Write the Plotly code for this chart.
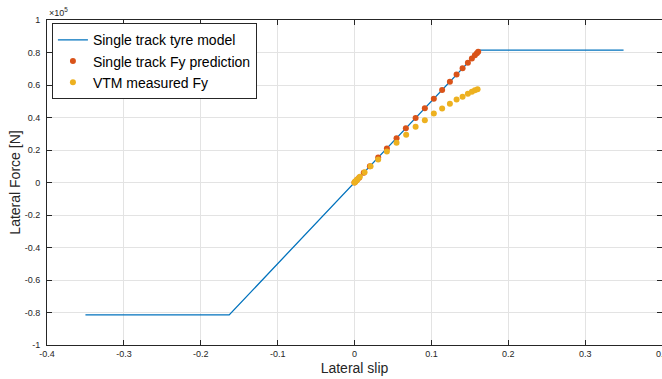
import plotly.graph_objects as go

# Single track tyre model: linear region with saturation
model_slip = [-0.35, -0.163, 0.163, 0.35]
model_fy = [-81500, -81500, 81500, 81500]

# Single track Fy prediction
pred_slip = [0.0, 0.001, 0.003, 0.006, 0.012, 0.020, 0.0308, 0.0421, 0.0547, 0.0668,
             0.0795, 0.0915, 0.1032, 0.1140, 0.1241, 0.1328, 0.1406, 0.1475,
             0.1527, 0.1566, 0.1592, 0.1609]
pred_fy = [0, 500, 1500, 3000, 6000, 10000, 15400, 21000, 27300, 33400,
           39700, 45700, 51600, 57000, 62000, 66400, 70300, 73700,
           76300, 78300, 79600, 80400]

# VTM measured Fy
vtm_slip = [0.0, 0.0005, 0.0015, 0.0025, 0.004, 0.007, 0.0131, 0.0209, 0.0308, 0.0421,
            0.0547, 0.0672, 0.0795, 0.0915, 0.1032, 0.1140, 0.1241, 0.1328,
            0.1406, 0.1475, 0.1527, 0.1566, 0.1601]
vtm_fy = [0, 300, 800, 1300, 2000, 3500, 6300, 10000, 14150, 19100,
          24400, 29350, 34300, 38300, 42500, 45500, 48400, 51100,
          52700, 54600, 55800, 56800, 57400]

x_ticks = [-0.4, -0.3, -0.2, -0.1, 0, 0.1, 0.2, 0.3]
x_tick_text = ["-0.4", "-0.3", "-0.2", "-0.1", "0", "0.1", "0.2", "0.3"]
x_last_tick = 0.4
x_last_text = "0.4"
y_ticks = [-100000, -80000, -60000, -40000, -20000, 0, 20000, 40000, 60000, 80000, 100000]
y_tick_text = ["-1", "-0.8", "-0.6", "-0.4", "-0.2", "0", "0.2", "0.4", "0.6", "0.8", "1"]

BLUE = "#0072BD"
RED = "#D95319"
YELLOW = "#EDB120"
AXIS = "#262626"
GRID = "#e3e3e3"
FONT = "Liberation Sans, Arial, Helvetica, sans-serif"

fig = go.Figure()
fig.add_trace(go.Scatter(x=model_slip, y=model_fy, mode="lines",
                         name="Single track tyre model",
                         line=dict(color=BLUE, width=1.3)))
fig.add_trace(go.Scatter(x=pred_slip, y=pred_fy, mode="markers",
                         name="Single track Fy prediction",
                         marker=dict(color=RED, size=6)))
fig.add_trace(go.Scatter(x=vtm_slip, y=vtm_fy, mode="markers",
                         name="VTM measured Fy",
                         marker=dict(color=YELLOW, size=6)))

axis_common = dict(
    showline=True, linecolor=AXIS, linewidth=1, mirror="ticks",
    ticks="inside", ticklen=5, tickcolor=AXIS, tickwidth=1,
    showgrid=True, gridcolor=GRID, gridwidth=1, zeroline=False,
    tickfont=dict(family=FONT, size=9, color=AXIS),
)

fig.update_layout(
    width=662, height=379,
    margin=dict(l=47, r=0, t=20, b=34),
    paper_bgcolor="white", plot_bgcolor="white",
    font=dict(family=FONT, color=AXIS),
    xaxis=dict(range=[-0.4, 0.4], tickvals=x_ticks, ticktext=x_tick_text,
               title=dict(text="Lateral slip", font=dict(size=14, color=AXIS), standoff=5),
               **axis_common),
    yaxis=dict(range=[-100000, 100000], tickvals=y_ticks, ticktext=y_tick_text,
               title=dict(text="Lateral Force [N]", font=dict(size=14, color=AXIS), standoff=0),
               ticklabelstandoff=4,
               **axis_common),
    legend=dict(x=0.008, y=0.99, xanchor="left", yanchor="top",
                bgcolor="white", bordercolor=AXIS, borderwidth=1,
                font=dict(family=FONT, size=14, color="black"),
                itemwidth=30, tracegroupgap=0),
    showlegend=True,
)

# Last x tick label sits on the right border of the axes
fig.add_annotation(text=x_last_text, xref="x", yref="paper",
                   x=x_last_tick, y=0, xanchor="center", yanchor="top", yshift=-2,
                   showarrow=False, font=dict(family=FONT, size=9, color=AXIS))

# Axis exponent label
fig.add_annotation(text="×10<sup>5</sup>", xref="paper", yref="paper",
                   x=0.0, y=1.0, xanchor="left", yanchor="bottom",
                   showarrow=False, font=dict(family=FONT, size=9, color=AXIS))

fig.write_html("out.html")
